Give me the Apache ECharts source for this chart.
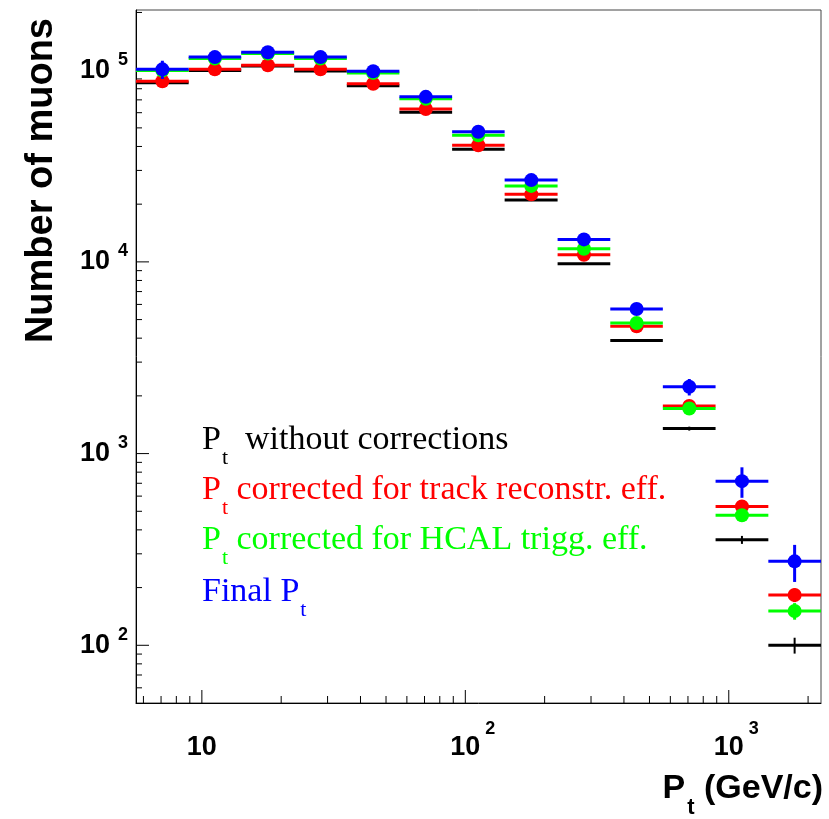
<!DOCTYPE html>
<html>
<head>
<meta charset="utf-8">
<script src="https://cdn.jsdelivr.net/npm/echarts@6/dist/echarts.min.js"></script>
<style>
  html, body { margin: 0; padding: 0; background: #fff; }
  #chart { width: 829px; height: 819px; }
</style>
</head>
<body>
<div id="chart"></div>
<script>
"use strict";

// 13 log-spaced Pt bins (GeV/c): low edge, high edge, centre
const BIN_LO  = [5.62, 8.91, 14.1, 22.4, 35.5, 56.2, 89.1, 141, 224, 355, 562, 891, 1413];
const BIN_HI  = [8.91, 14.1, 22.4, 35.5, 56.2, 89.1, 141, 224, 355, 562, 891, 1413, 2239];
const BIN_MID = [7.08, 11.2, 17.8, 28.2, 44.7, 70.8, 112, 178, 282, 447, 708, 1122, 1778];

// muon counts per bin
const RAW       = [86000, 99700, 105000, 99000, 82900, 60400, 38700, 21000, 9770, 3890, 1350, 355, 100];
const RAW_ERR   = [290, 316, 324, 315, 288, 246, 197, 145, 100, 50, 32, 17, 9.5];
const TRACK     = [87500, 101000, 106000, 101000, 84900, 62700, 40600, 22500, 10900, 4610, 1770, 530, 183];
const TRACK_ERR = [600, 650, 650, 650, 600, 500, 400, 300, 200, 100, 45, 30, 15];
const HCAL      = [99500, 115000, 122000, 115000, 96800, 70900, 45700, 24900, 11700, 4800, 1720, 477, 151];
const HCAL_ERR  = [1500, 1500, 1500, 1500, 1400, 1200, 900, 600, 300, 120, 50, 30, 15];
const FINAL     = [101000, 117000, 124000, 117000, 98800, 72600, 47700, 26700, 13100, 5680, 2230, 718, 274];
const FINAL_ERR = [11000, 2000, 2000, 2000, 2000, 1500, 1000, 700, 400, 250, 220, 130, 60];

const X_MIN = 5.623, X_MAX = 2239;
const Y_MIN = 50, Y_MAX = 206000;

const X_MAJOR = [10, 100, 1000];
const X_MINOR = [6, 7, 8, 9, 20, 30, 40, 50, 60, 70, 80, 90,
  200, 300, 400, 500, 600, 700, 800, 900, 2000];
const Y_MAJOR = [100, 1000, 10000, 100000];
const Y_MINOR = [60, 70, 80, 90, 200, 300, 400, 500, 600, 700, 800, 900,
  2000, 3000, 4000, 5000, 6000, 7000, 8000, 9000,
  20000, 30000, 40000, 50000, 60000, 70000, 80000, 90000, 200000];

const LEGEND = [
  { lead: "P", rest: "  without corrections", color: "#000000" },
  { lead: "P", rest: " corrected for track reconstr. eff.", color: "#ff0000" },
  { lead: "P", rest: " corrected for HCAL trigg. eff.", color: "#00ff00" },
  { lead: "Final P", rest: "", color: "#0000ff" },
];
const LEGEND_TOP = [411, 461, 511, 563];

const SANS = "Liberation Sans";
const SERIF = "Liberation Serif";

// decade exponent if v is a power of ten, else null
function pow10(v) {
  const e = Math.round(Math.log10(v));
  return Math.abs(v - Math.pow(10, e)) < 1e-6 * v ? e : null;
}

function histSeries(name, color, vals, errs, marker) {
  return {
    name, type: "custom", clip: false,
    data: vals.map((v, i) => [BIN_MID[i], v, BIN_LO[i], BIN_HI[i], errs[i]]),
    encode: { x: 0, y: 1 },
    renderItem: (params, api) => {
      const y = api.value(1), e = api.value(4);
      const c = api.coord([api.value(0), y]);
      const l = api.coord([api.value(2), y]);
      const r = api.coord([api.value(3), y]);
      const up = api.coord([api.value(0), y + e]);
      const dn = api.coord([api.value(0), y - e]);
      const kids = [
        { type: "line", shape: { x1: l[0], y1: c[1], x2: r[0], y2: c[1] },
          style: { stroke: color, lineWidth: 3 } },
        { type: "line", shape: { x1: c[0], y1: up[1], x2: c[0], y2: dn[1] },
          style: { stroke: color, lineWidth: marker ? 3 : 2 } },
      ];
      if (marker) kids.push({ type: "circle", shape: { cx: c[0], cy: c[1], r: 7 }, style: { fill: color } });
      return { type: "group", children: kids };
    },
  };
}

// ROOT-style inside ticks
function tickSeries(axis, vals, len) {
  return {
    type: "custom", clip: false, silent: true,
    data: vals.map(v => axis === "x" ? [v, Y_MIN] : [X_MIN, v]),
    encode: { x: 0, y: 1 },
    renderItem: (params, api) => {
      const p = api.coord([api.value(0), api.value(1)]);
      const shape = axis === "x"
        ? { x1: p[0], y1: p[1], x2: p[0], y2: p[1] - len }
        : { x1: p[0], y1: p[1], x2: p[0] + len, y2: p[1] };
      return { type: "line", shape, style: { stroke: "#000", lineWidth: 1 } };
    },
  };
}

function legendText(item, top) {
  return {
    type: "text", left: 202, top: top,
    style: {
      text: "{n|" + item.lead + "}{s|t}" + (item.rest ? "{n|" + item.rest + "}" : ""),
      fill: item.color,
      rich: {
        n: { fontFamily: SERIF, fontSize: 34, lineHeight: 34 },
        s: { fontFamily: SERIF, fontSize: 22, lineHeight: 22, padding: [36, 0, 0, 1] },
      },
    },
  };
}

const chart = echarts.init(document.getElementById("chart"));
chart.setOption({
  animation: false,
  grid: {
    left: 136, right: 8, top: 10, bottom: 116,
    show: true, borderColor: "#444", borderWidth: 1,
    outerBoundsMode: "none",
  },
  xAxis: {
    type: "log", logBase: 10, min: X_MIN, max: X_MAX,
    axisLine: { lineStyle: { color: "#000", width: 1 } },
    axisTick: { show: false }, splitLine: { show: false },
    axisLabel: {
      margin: 17, color: "#000",
      showMinLabel: false, showMaxLabel: false,
      formatter: v => {
        const e = pow10(v);
        if (e === null) return "";
        return e === 1 ? "{b|10}" : "{p|10}{s|" + e + "}";
      },
      rich: {
        b: { fontFamily: SANS, fontWeight: "bold", fontSize: 27, lineHeight: 56 },
        p: { fontFamily: SANS, fontWeight: "bold", fontSize: 27, lineHeight: 56, padding: [0, 0, 0, 15] },
        s: { fontFamily: SANS, fontWeight: "bold", fontSize: 18, lineHeight: 18, padding: [0, 0, 38, 5] },
      },
    },
  },
  yAxis: {
    type: "log", logBase: 10, min: Y_MIN, max: Y_MAX,
    axisLine: { lineStyle: { color: "#000", width: 1 } },
    axisTick: { show: false }, splitLine: { show: false },
    axisLabel: {
      margin: 8, color: "#000",
      showMinLabel: false, showMaxLabel: false,
      formatter: v => {
        const e = pow10(v);
        return e === null ? "" : "{b|10}{s|" + e + "}";
      },
      rich: {
        b: { fontFamily: SANS, fontWeight: "bold", fontSize: 27, lineHeight: 27 },
        s: { fontFamily: SANS, fontWeight: "bold", fontSize: 18, lineHeight: 18, padding: [0, 0, 21, 8] },
      },
    },
  },
  series: [
    tickSeries("x", X_MAJOR, 13),
    tickSeries("x", X_MINOR, 7),
    tickSeries("y", Y_MAJOR, 13),
    tickSeries("y", Y_MINOR, 6),
    histSeries("Pt without corrections", "#000000", RAW, RAW_ERR, false),
    histSeries("Pt corrected for track reconstr. eff.", "#ff0000", TRACK, TRACK_ERR, true),
    histSeries("Pt corrected for HCAL trigg. eff.", "#00ff00", HCAL, HCAL_ERR, true),
    histSeries("Final Pt", "#0000ff", FINAL, FINAL_ERR, true),
  ],
  graphic: [
    ...LEGEND.map((item, i) => legendText(item, LEGEND_TOP[i])),
    {
      type: "text", x: 42, y: 18, rotation: Math.PI / 2,
      style: {
        text: "Number of muons", fill: "#000",
        font: "bold 38px " + SANS,
        align: "right", verticalAlign: "middle",
        textAlign: "right", textVerticalAlign: "middle",
      },
    },
    {
      type: "text", right: 6, top: 759,
      style: {
        text: "{n|P}{s|t}{n| (GeV/c)}", fill: "#000",
        rich: {
          n: { fontFamily: SANS, fontWeight: "bold", fontSize: 34, lineHeight: 34 },
          s: { fontFamily: SANS, fontWeight: "bold", fontSize: 22, lineHeight: 22, padding: [38, 0, 0, 2] },
        },
      },
    },
  ],
});
</script>
</body>
</html>
